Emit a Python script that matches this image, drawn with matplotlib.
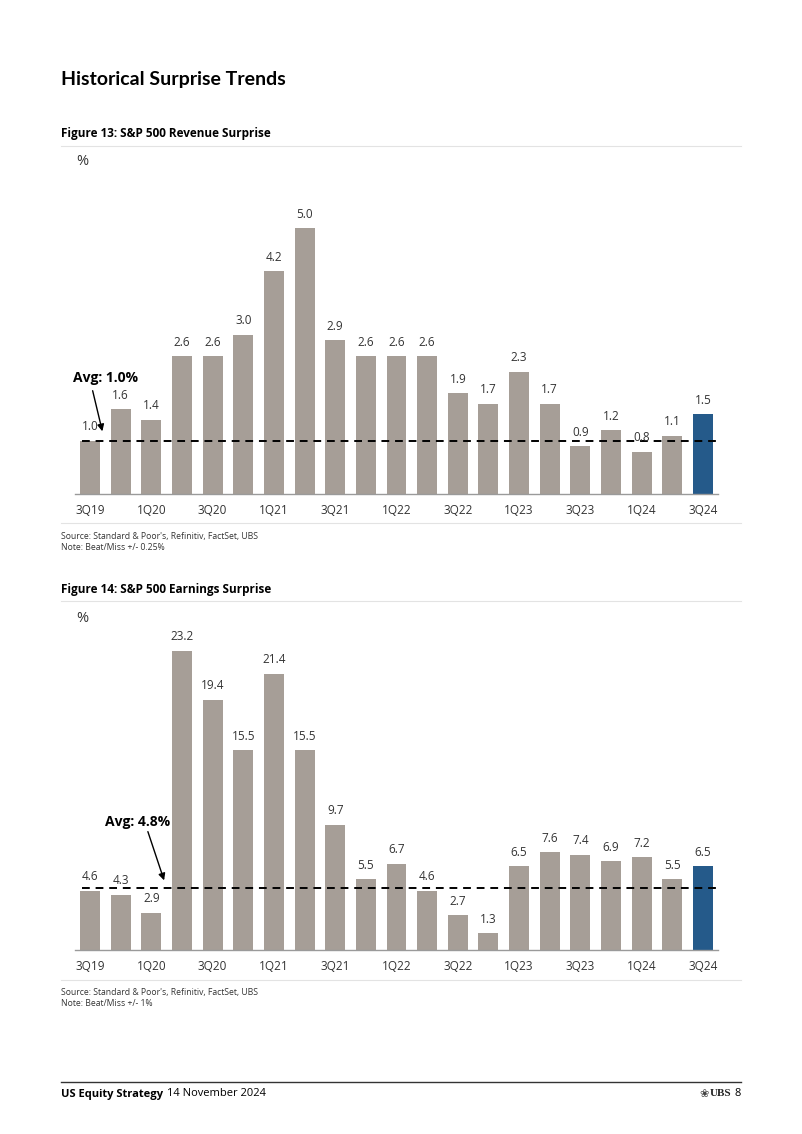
import matplotlib
matplotlib.use("Agg")
import matplotlib.pyplot as plt

plt.rcParams['font.family'] = ['Open Sans', 'DejaVu Sans']

quarters = ['3Q19', '4Q19', '1Q20', '2Q20', '3Q20', '4Q20', '1Q21', '2Q21', '3Q21',
            '4Q21', '1Q22', '2Q22', '3Q22', '4Q22', '1Q23', '2Q23', '3Q23', '4Q23',
            '1Q24', '2Q24', '3Q24']
revenue = [1.0, 1.6, 1.4, 2.6, 2.6, 3.0, 4.2, 5.0, 2.9, 2.6, 2.6, 2.6, 1.9, 1.7,
           2.3, 1.7, 0.9, 1.2, 0.8, 1.1, 1.5]
earnings = [4.6, 4.3, 2.9, 23.2, 19.4, 15.5, 21.4, 15.5, 9.7, 5.5, 6.7, 4.6, 2.7,
            1.3, 6.5, 7.6, 7.4, 6.9, 7.2, 5.5, 6.5]
revenue_avg = 1.0
earnings_avg = 4.8

GRAY = '#a69e97'
BLUE = '#255a8a'
TXT = '#333333'

W, H = 802, 1134
fig = plt.figure(figsize=(W / 100, H / 100), dpi=100)


def px(x, y):
    return x / W, 1 - y / H


def box(x0, y0, x1, y1):
    return [x0 / W, 1 - y1 / H, (x1 - x0) / W, (y1 - y0) / H]


def hline(y, x0=61, x1=741, color='#e3e3e3', lw=0.8):
    fig.add_artist(plt.Line2D([x0 / W, x1 / W], [1 - y / H, 1 - y / H],
                              color=color, lw=lw))


def bar_chart(rect, values, avg, ymax, avg_text, text_xy, arrow_from, arrow_to):
    ax = fig.add_axes(rect)
    xs = list(range(len(values)))
    colors = [GRAY] * (len(values) - 1) + [BLUE]
    ax.bar(xs, values, width=0.65, color=colors)
    for x, v in zip(xs, values):
        ax.annotate(f'{v:.1f}', (x, v), xytext=(0, 10), textcoords='offset points',
                    ha='center', va='center', fontsize=8.5, color=TXT)
    ax.hlines(avg, -0.26, 20.5, colors='black', linestyles=(0, (4, 3)), lw=1.4)
    ax.set_xlim(-0.5, 20.5)
    ax.set_ylim(0, ymax)
    ax.set_xticks(xs[::2])
    ax.set_xticklabels(quarters[::2], fontsize=8.5, color=TXT)
    ax.tick_params(axis='x', length=0, pad=7)
    ax.set_yticks([])
    for s in ['top', 'right', 'left']:
        ax.spines[s].set_visible(False)
    ax.spines['bottom'].set_color('#9a9a9a')
    ax.spines['bottom'].set_linewidth(1.0)
    ax.patch.set_alpha(0)
    fig.text(*px(*text_xy), avg_text, fontsize=10, fontweight='bold',
             ha='left', va='center', color='black')
    fig.add_artist(matplotlib.patches.FancyArrowPatch(
        px(*arrow_from), px(*arrow_to), transform=fig.transFigure,
        arrowstyle='-|>', mutation_scale=10, color='black', lw=1.0))
    return ax


fig.text(*px(61, 79), 'Historical Surprise Trends', fontsize=14, fontweight='bold',
         ha='left', va='center', color='black', family=['Lato', 'DejaVu Sans'])

# Figure 13
fig.text(*px(61, 134), 'Figure 13: S&P 500 Revenue Surprise', fontsize=8.5,
         fontweight='bold', ha='left', va='center', color='black')
hline(146)
fig.text(*px(76, 162), '%', fontsize=10.5, ha='left', va='center', color=TXT)
bar_chart(box(74.7, 170, 718.3, 494), revenue, revenue_avg, 6.1,
          'Avg: 1.0%', (73, 378), (92, 388), (103, 434))
hline(523)
fig.text(*px(61, 536), "Source: Standard & Poor's, Refinitiv, FactSet, UBS",
         fontsize=6.2, ha='left', va='center', color=TXT)
fig.text(*px(61, 548), 'Note: Beat/Miss +/- 0.25%', fontsize=6.2,
         ha='left', va='center', color=TXT)

# Figure 14
fig.text(*px(61, 590), 'Figure 14: S&P 500 Earnings Surprise', fontsize=8.5,
         fontweight='bold', ha='left', va='center', color='black')
hline(601)
fig.text(*px(76, 618), '%', fontsize=10.5, ha='left', va='center', color=TXT)
bar_chart(box(74.7, 630, 718.3, 950), earnings, earnings_avg, 24.8,
          'Avg: 4.8%', (105, 822), (147, 829), (165, 883))
hline(980)
fig.text(*px(61, 993), "Source: Standard & Poor's, Refinitiv, FactSet, UBS",
         fontsize=6.2, ha='left', va='center', color=TXT)
fig.text(*px(61, 1004), 'Note: Beat/Miss +/- 1%', fontsize=6.2,
         ha='left', va='center', color=TXT)

# footer
hline(1082, color='#333333', lw=1.0)
fig.text(*px(61, 1094), 'US Equity Strategy', fontsize=8, fontweight='bold',
         ha='left', va='center', color='black')
fig.text(*px(167, 1094), '14 November 2024', fontsize=8,
         ha='left', va='center', color='black')
fig.text(*px(709, 1094), '\u2740', fontsize=8, ha='right', va='center',
         color='#444444', family=['DejaVu Sans'])
fig.text(*px(731, 1094), 'UBS', fontsize=8, fontweight='bold', ha='right',
         va='center', color='#222222', family=['Liberation Serif', 'DejaVu Serif'])
fig.text(*px(741, 1094), '8', fontsize=8, ha='right', va='center', color='black')

fig.savefig('out.png', dpi=100)
